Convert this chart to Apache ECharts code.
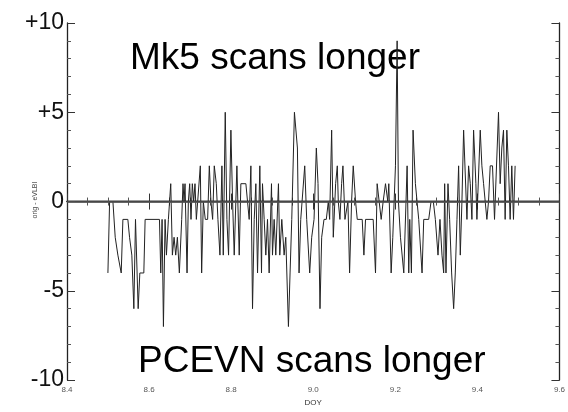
<!DOCTYPE html>
<html>
<head>
<meta charset="utf-8">
<script src="https://cdn.jsdelivr.net/npm/echarts@6/dist/echarts.min.js"></script>
<style>
  html, body { margin: 0; padding: 0; background: #fff; }
  #chart { width: 568px; height: 412px; }
</style>
</head>
<body>
<div id="chart"></div>
<script>
// orig - eVLBI scan length difference vs day of year
const doy = [
  8.4997, 8.5038, 8.5119, 8.5175, 8.5240, 8.5321, 8.5362, 8.5483, 8.5524, 8.5580,
  8.5629, 8.5669, 8.5702, 8.5734, 8.5775, 8.5872, 8.5904, 8.6253, 8.6285, 8.6317,
  8.6350, 8.6390, 8.6423, 8.6471, 8.6528, 8.6568, 8.6609, 8.6649, 8.6690, 8.6738,
  8.6795, 8.6827, 8.6852, 8.6876, 8.6925, 8.6957, 8.6990, 8.7022, 8.7054, 8.7087,
  8.7119, 8.7152, 8.7200, 8.7249, 8.7281, 8.7322, 8.7370, 8.7427, 8.7468, 8.7508,
  8.7549, 8.7589, 8.7638, 8.7678, 8.7727, 8.7775, 8.7808, 8.7856, 8.7897, 8.7937,
  8.7994, 8.8035, 8.8075, 8.8140, 8.8197, 8.8237, 8.8359, 8.8399, 8.8440,
  8.8481, 8.8521, 8.8562, 8.8602, 8.8643, 8.8699, 8.8740, 8.8764, 8.8805, 8.8845,
  8.8886, 8.8926, 8.8983, 8.9007, 8.9048, 8.9088, 8.9153, 8.9185, 8.9234, 8.9291,
  8.9331, 8.9396, 8.9436, 8.9477, 8.9517, 8.9542, 8.9615, 8.9655, 8.9696, 8.9736,
  8.9793, 8.9841, 8.9914, 8.9963, 9.0020, 9.0076, 9.0117, 9.0165, 9.0206, 9.0263,
  9.0319, 9.0368, 9.0400, 9.0449, 9.0489, 9.0546, 9.0587, 9.0611, 9.0651, 9.0692,
  9.0724, 9.0773, 9.0805, 9.0846, 9.0886, 9.0935, 9.0975, 9.1032, 9.1073, 9.1194,
  9.1235, 9.1275, 9.1461, 9.1518, 9.1558, 9.1599, 9.1656, 9.1704, 9.1761, 9.1818,
  9.1842, 9.1899, 9.1939, 9.2004, 9.2045, 9.2077, 9.2126, 9.2207, 9.2288, 9.2328,
  9.2352, 9.2393, 9.2433, 9.2490, 9.2571, 9.2652, 9.2693, 9.2814, 9.2871, 9.2927,
  9.2976, 9.3041, 9.3089, 9.3138, 9.3179, 9.3203, 9.3235, 9.3284, 9.3324, 9.3373,
  9.3422, 9.3462, 9.3503, 9.3543, 9.3584, 9.3624, 9.3665, 9.3705, 9.3746, 9.3786,
  9.3827, 9.3867, 9.3908, 9.3964, 9.3989, 9.4029, 9.4070, 9.4110, 9.4151, 9.4191,
  9.4232, 9.4272, 9.4313, 9.4369, 9.4418, 9.4450, 9.4515, 9.4556, 9.4596, 9.4637,
  9.4677, 9.4718, 9.4758, 9.4799, 9.4839, 9.4880, 9.4920
];
const diff = [
  -4, 0, 0, -2, -3, -4, -1, -1, -2, -3,
  -6, -1, -1, -6, -4, -4, -1, -1, -4, -1,
  -7, -1, -3, -1, 1, -3, -2, -3, -2, -4,
  -1, 1, 0, 1, -4, 0, 1, -1, 1, 0,
  1, -1, -1, 2, -4, 0, -1, -1, 2, 0,
  -1, 2, 1, -1, -3, 2, -3, 5, -1, -3,
  4, 0, -3, 2, -3, 1, 1, 0, -1,
  2, -6, -1, 1, -4, 2, -4, 1, -1, -3,
  -1, -4, 1, -3, -1, -3, 1, -3, -1, -3,
  -2, -7, -4, -1, -1, 5, 3, -4, -1, -1,
  2, -1, -4, -2, -1, 3, 1, -6, -2, -1,
  -1, 0, -1, 4, -2, 1, 2, 0, -1, 1,
  2, -1, -1, 0, -4, 0, 2, 0, -1, -1,
  -3, -1, -1, -4, 1, 1, -1, 0, 1, 0,
  1, -4, -2, 2, 9, 0, -2, -4, 2, -4,
  -1, -4, 4, 1, -1, -4, -1, -1, 0, 0,
  -1, -3, -1, -3, -4, 1, -4, 1, -1, -4,
  -6, -4, -1, 2, -3, 0, 4, 4, -1, 2,
  1, -1, 4, 1, -1, -1, 4, 2, 1, 0,
  -1, 0, 2, 2, -1, -1, 5, 1, 3, 4,
  -1, 4, 2, -1, 2, -1, 2
];
const yTickLabels = { "10": "+10", "5": "+5", "0": "0", "-5": "-5", "-10": "-10" };

const chart = echarts.init(document.getElementById("chart"));
const font = "'Liberation Sans', Arial, Helvetica, sans-serif";

const option = {
  animation: false,
  backgroundColor: "#fff",
  grid: { left: 67, right: 7, top: 23, bottom: 27 },
  xAxis: [
    {
      type: "value",
      min: 8.4,
      max: 9.6,
      interval: 0.2,
      name: "DOY",
      nameLocation: "middle",
      nameGap: 17,
      nameTextStyle: { fontSize: 8, color: "#333", fontFamily: font },
      axisLine: { lineStyle: { color: "#222", width: 1.3 } },
      axisTick: { inside: true, length: 8, lineStyle: { color: "#333" } },
      minorTick: { show: true, splitNumber: 4, length: 4, lineStyle: { color: "#555" } },
      axisLabel: {
        fontSize: 8, color: "#555", fontFamily: font, margin: 6,
        formatter: v => v.toFixed(1)
      },
      splitLine: { show: false }
    },
    {
      type: "value",
      position: "top",
      min: 8.4,
      max: 9.6,
      interval: 0.2,
      axisLine: { lineStyle: { color: "#222", width: 1.3 } },
      axisTick: { inside: true, length: 8, lineStyle: { color: "#333" } },
      minorTick: { show: true, splitNumber: 4, length: 4, lineStyle: { color: "#555" } },
      axisLabel: { show: false },
      splitLine: { show: false }
    }
  ],
  yAxis: [
    {
      type: "value",
      min: -10,
      max: 10,
      interval: 5,
      axisLine: { lineStyle: { color: "#222", width: 1.3 } },
      axisTick: { inside: true, length: 8, lineStyle: { color: "#333" } },
      minorTick: { show: true, splitNumber: 5, length: 4, lineStyle: { color: "#555" } },
      axisLabel: {
        fontSize: 23, color: "#111", fontFamily: font, margin: 3,
        formatter: v => yTickLabels[String(v)]
      },
      splitLine: { show: false }
    },
    {
      type: "value",
      position: "right",
      min: -10,
      max: 10,
      interval: 5,
      axisLine: { lineStyle: { color: "#222", width: 1.3 } },
      axisTick: { inside: true, length: 8, lineStyle: { color: "#333" } },
      minorTick: { show: true, splitNumber: 5, length: 4, lineStyle: { color: "#555" } },
      axisLabel: { show: false },
      splitLine: { show: false }
    }
  ],
  series: [
    {
      type: "line",
      data: doy.map((d, i) => [d, diff[i]]),
      showSymbol: false,
      lineStyle: { color: "#222", width: 1 },
      markLine: {
        silent: true,
        symbol: "none",
        label: { show: false },
        lineStyle: { color: "#555", width: 1.6, type: "solid" },
        data: [{ yAxis: 0 }]
      }
    }
  ],
  graphic: [
    {
      type: "text",
      left: 130,
      top: 40,
      style: { text: "Mk5 scans longer", font: "37px " + font, fill: "#000" }
    },
    {
      type: "text",
      left: 138,
      top: 343,
      style: { text: "PCEVN scans longer", font: "37px " + font, fill: "#000" }
    },
    {
      // y-axis title, small and rotated like the original
      type: "text",
      x: 35,
      y: 200,
      rotation: Math.PI / 2,
      style: {
        text: "orig - eVLBI", font: "7px " + font, fill: "#444",
        align: "center", verticalAlign: "middle"
      }
    }
  ]
};

chart.setOption(option);
</script>
</body>
</html>
